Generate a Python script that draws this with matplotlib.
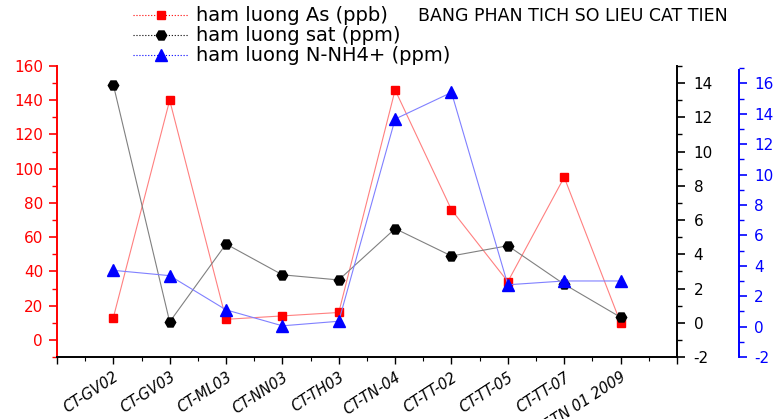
import matplotlib
matplotlib.use("Agg")
import matplotlib.pyplot as plt
from matplotlib.lines import Line2D
from matplotlib.ticker import MultipleLocator, FixedLocator

# sample sites and measured values
sites = ["CT-GV02", "CT-GV03", "CT-ML03", "CT-NN03", "CT-TH03",
         "CT-TN-04", "CT-TT-02", "CT-TT-05", "CT-TT-07", "CT-TN 01 2009"]
as_ppb = [13, 140, 12, 14, 16, 146, 76, 34, 95, 10]
sat_ppm = [13.9, 0.05, 4.6, 2.8, 2.5, 5.5, 3.9, 4.5, 2.25, 0.32]
nh4_ppm = [3.7, 3.35, 1.1, 0.05, 0.35, 13.65, 15.4, 2.75, 3.0, 3.0]

lbl_as = "ham luong As (ppb)"
lbl_sat = "ham luong sat (ppm)"
lbl_nh4 = "ham luong N-NH4+ (ppm)"
title = "BANG PHAN TICH SO LIEU CAT TIEN"

plt.rcParams['font.family'] = ['DejaVu Sans']
plt.rcParams['axes.unicode_minus'] = False

fig = plt.figure(figsize=(7.73, 4.19), dpi=100)
ax = fig.add_axes([0.0737, 0.148, 0.802, 0.6945])
ax2 = ax.twinx()
ax3 = ax.twinx()

x = list(range(1, len(sites) + 1))

# As on the left (red) axis
ax.plot(x, as_ppb, color='#ff8080', lw=0.8)
ax.plot(x, as_ppb, ls='none', marker='s', ms=6, color='red', mec='red')
ax.set_xlim(0, 11)
ax.set_ylim(-10, 160)

# iron on the black right axis
ax2.plot(x, sat_ppm, color='#808080', lw=0.8)
ax2.plot(x, sat_ppm, ls='none', marker='H', ms=7.5, color='black')
ax2.set_ylim(-2, 15)

# ammonium on the blue outer axis
ax3.plot(x, nh4_ppm, color='#8080ff', lw=0.8)
ax3.plot(x, nh4_ppm, ls='none', marker='^', ms=8, color='blue')
ax3.set_ylim(-2, 17.14)

for a in (ax, ax2, ax3):
    a.spines['top'].set_visible(False)
    a.patch.set_visible(False)

ax.spines['right'].set_visible(False)
ax.spines['left'].set_color('red')
ax.spines['left'].set_linewidth(1.4)
ax.spines['bottom'].set_linewidth(1.4)
ax.yaxis.set_major_locator(MultipleLocator(20))
ax.yaxis.set_minor_locator(MultipleLocator(10))
ax.tick_params(axis='y', which='both', colors='red', labelsize=11, direction='out')
ax.tick_params(axis='y', which='major', length=6, width=1.2, pad=4)
ax.tick_params(axis='y', which='minor', length=3.5, width=1.0)

# x ticks: integers at every site, halves as minor
ax.xaxis.set_major_locator(FixedLocator(range(0, 12)))
ax.xaxis.set_minor_locator(MultipleLocator(0.5))
ax.set_xticklabels([""] + sites + [""], rotation=33, ha='right', va='top',
                   rotation_mode='anchor', fontsize=10.5, style='italic')
ax.tick_params(axis='x', which='major', length=5, width=1.0, pad=4, direction='out')
ax.tick_params(axis='x', which='minor', length=3, width=0.8, direction='out')

ax2.spines['left'].set_visible(False)
ax2.spines['bottom'].set_visible(False)
ax2.spines['right'].set_linewidth(1.4)
ax2.yaxis.set_major_locator(MultipleLocator(2))
ax2.yaxis.set_minor_locator(MultipleLocator(1))
ax2.tick_params(axis='y', which='both', colors='black', labelsize=11, direction='out')
ax2.tick_params(axis='y', which='major', length=6, width=1.2, pad=6)
ax2.tick_params(axis='y', which='minor', length=3.5, width=1.0)

ax3.spines['left'].set_visible(False)
ax3.spines['bottom'].set_visible(False)
ax3.spines['right'].set_position(('outward', 44.5))
ax3.spines['right'].set_color('blue')
ax3.spines['right'].set_linewidth(1.4)
ax3.spines['right'].set_bounds(-2, 16.9)
ax3.yaxis.set_major_locator(MultipleLocator(2))
ax3.yaxis.set_minor_locator(MultipleLocator(1))
ax3.tick_params(axis='y', which='both', colors='blue', labelsize=11, direction='out')
ax3.tick_params(axis='y', which='major', length=6, width=1.2, pad=5)
ax3.tick_params(axis='y', which='minor', length=3.5, width=1.0)

handles = [
    Line2D([], [], color='red', ls=':', lw=0.8, marker='s', ms=6),
    Line2D([], [], color='black', ls=':', lw=0.8, marker='H', ms=7.5),
    Line2D([], [], color='blue', ls=':', lw=0.8, marker='^', ms=8),
]
fig.legend(handles, [lbl_as, lbl_sat, lbl_nh4], loc='upper left',
           bbox_to_anchor=(0.155, 1.017), frameon=False, fontsize=14,
           handlelength=2.8, handletextpad=0.4, labelspacing=0.05,
           borderpad=0.2)

fig.text(0.541, 0.962, title, fontsize=12.5, va='center', ha='left')

fig.savefig("out.png", dpi=100)
